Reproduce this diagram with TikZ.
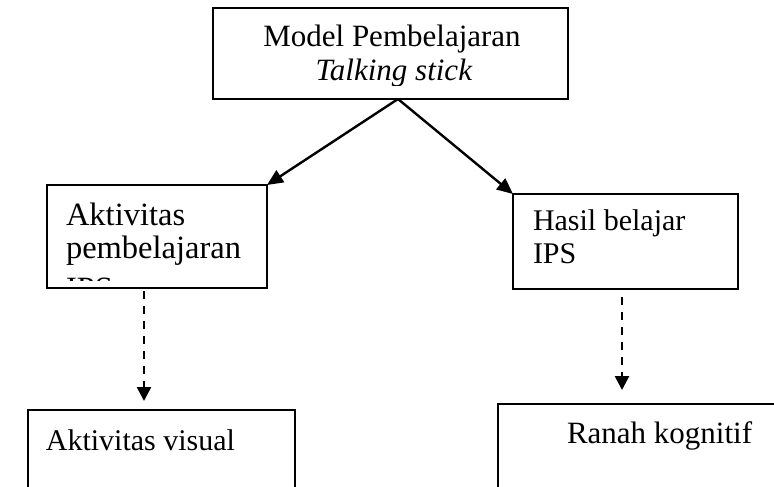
\documentclass[tikz,border=0pt]{standalone}
\usepackage{fontspec}
\setmainfont{Liberation Serif}
\usetikzlibrary{arrows.meta}
\tikzset{
  box/.style={draw=black, line width=1.8pt, rectangle, inner sep=0pt, outer sep=0pt, anchor=north west},
  txt/.style={inner sep=0pt, outer sep=0pt, font=\fontsize{31}{34}\selectfont},
  ltxt/.style={inner sep=0pt, outer sep=0pt, font=\fontsize{32.5}{35}\selectfont},
  stxt/.style={inner sep=0pt, outer sep=0pt, font=\fontsize{30}{33}\selectfont},
  solidarr/.style={line width=2.4pt, -{Triangle[length=16pt,width=14pt]}},
  dasharr/.style={line width=2.6pt, dash pattern=on 8pt off 7pt, -{Triangle[length=14pt,width=14pt]}}
}
\begin{document}
\begin{tikzpicture}[x=1pt,y=-1pt]
\clip (0,0) rectangle (774,487);
\useasboundingbox (0,0) rectangle (774,487);
\fill[white] (0,0) rectangle (774,487);
% boxes
\node[box, minimum width=355pt, minimum height=91pt] (top) at (213,8) {};
\node[box, minimum width=220pt, minimum height=103pt] (lm) at (47,185) {};
\node[box, minimum width=225pt, minimum height=95pt] (rm) at (513,194) {};
\node[box, minimum width=267pt, minimum height=100pt] (lb) at (28,410) {};
\node[box, minimum width=320pt, minimum height=100pt] (rb) at (498,404) {};
% texts
\begin{scope}
\clip (213,8) rectangle (568,86);
\node[txt, anchor=base] (t1) at (392,47) {Model Pembelajaran};
\node[txt, anchor=base] (t2) at (394,81) {\textit{Talking stick}};
\end{scope}
\begin{scope}
\clip (47,185) rectangle (267,280);
\node[ltxt, anchor=base west] (l1) at (66,225) {Aktivitas};
\node[ltxt, anchor=base west] (l2) at (66,258) {pembelajaran};
\node[ltxt, anchor=base west] (l3) at (66,299) {IPS};
\end{scope}
\node[stxt, anchor=base west] (r1) at (533,230) {Hasil belajar};
\node[stxt, anchor=base west] (r2) at (533,263) {IPS};
\node[stxt, anchor=base east] (b1) at (235,450) {Aktivitas visual};
\node[txt, anchor=base west] (b2) at (567,443) {Ranah kognitif};
% connectors
\coordinate (apex) at (398,99);
\draw[solidarr] (apex) -- (lm.north east);
\draw[solidarr] (apex) -- (rm.north west);
\coordinate (d1s) at (144,291);
\coordinate (d1e) at (144,401);
\coordinate (d2s) at (622,297);
\coordinate (d2e) at (622,390);
\draw[dasharr] (d1s) -- (d1e);
\draw[dasharr] (d2s) -- (d2e);
\end{tikzpicture}
\end{document}
